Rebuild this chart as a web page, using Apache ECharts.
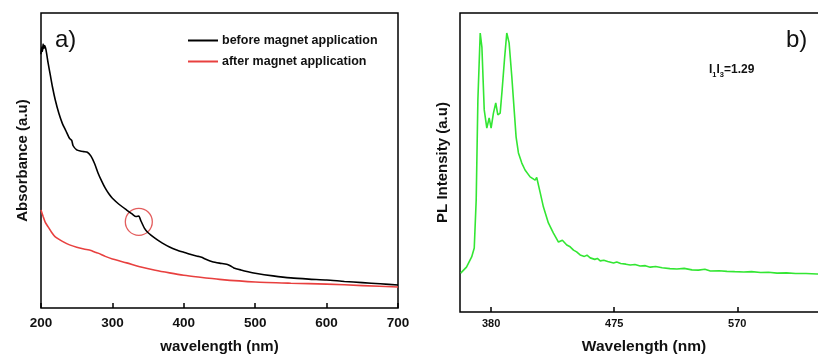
<!DOCTYPE html>
<html>
<head>
<meta charset="utf-8">
<script src="https://cdn.jsdelivr.net/npm/echarts@6/dist/echarts.min.js"></script>
<style>
  html, body { margin: 0; padding: 0; background: #fff; }
  #main { width: 818px; height: 358px; }
</style>
</head>
<body>
<div id="main"></div>
<script>
// a) absorbance (arbitrary units, 0 = axis bottom, 100 = box top)
var beforeX = [200, 201, 202, 203, 204, 205, 207, 210, 213, 216, 220, 225, 230, 235, 240, 243, 245, 250, 255, 260, 265, 270, 275, 280, 285, 290, 295, 300, 310, 320, 328, 333, 337, 340, 345, 350, 360, 370, 380, 390, 400, 410, 420, 425, 430, 440, 450, 460, 465, 470, 480, 490, 500, 525, 550, 575, 600, 625, 650, 675, 700];
var beforeY = [86, 88.5, 87, 89.5, 88, 89, 87.5, 83, 79, 75, 70.5, 66, 62.5, 60, 57.5, 56.8, 55, 53.6, 53.2, 53, 52.8, 51.5, 49, 45.7, 43, 40.6, 38.7, 37.2, 35, 33.2, 31.8, 31, 31.2, 29.5, 27, 25.5, 23.6, 22, 20.7, 19.7, 18.9, 18.1, 17.5, 17.2, 16.6, 15.7, 15.2, 14.8, 14.3, 13.6, 12.9, 12.3, 11.8, 10.9, 10.2, 9.8, 9.5, 9.0, 8.6, 8.2, 7.8];
var afterX = [200, 203, 206, 210, 215, 220, 230, 240, 250, 260, 270, 275, 280, 290, 300, 320, 340, 360, 380, 400, 420, 450, 500, 550, 600, 650, 700];
var afterY = [33.2, 31, 29, 27.5, 25.6, 24.1, 22.6, 21.4, 20.6, 20, 19.5, 19, 18.6, 17.5, 16.6, 15.3, 13.9, 12.8, 11.9, 11.1, 10.5, 9.7, 8.8, 8.4, 8.1, 7.6, 7.1];
var circlePt = [337, 29.2];

// b) PL spectrum
var plX = [356.5, 361, 365, 367, 368.5, 369.8, 371.6, 372.9, 374.7, 376.7, 378.5, 380, 381.8, 383.6, 385.2, 387, 388.5, 390.3, 392.1, 393.9, 396, 397.8, 399.3, 401.1, 403.7, 406.2, 410.1, 414, 415.2, 417.8, 420.4, 424.2, 428.1, 432, 435, 438.4, 441, 443.6, 446, 448.7, 452, 454, 456.5, 460, 462, 464.2, 467, 470, 474.5, 477, 480, 484, 487.4, 491, 495, 499, 502.8, 507, 512, 518, 523.4, 529, 535, 540, 545, 549.2, 556, 562, 568, 575, 581, 588, 594, 600.7, 608, 615, 623, 631.6, 640];
var plY = [13, 15, 18.4, 21.4, 37.5, 70.9, 93.3, 88.6, 67.6, 61.5, 64.9, 61.5, 66.5, 69.9, 65.9, 66.5, 74.2, 84.3, 93.3, 90, 78.6, 67.6, 58.5, 53.2, 49.8, 47.5, 45.2, 44.1, 45, 40.1, 35.1, 29.8, 26.4, 23.4, 24, 22.4, 21.8, 20.7, 20.1, 19.1, 18.6, 19.0, 18.1, 17.6, 17.9, 17.1, 17.3, 16.9, 16.4, 16.7, 16.2, 16.0, 15.7, 15.9, 15.4, 15.5, 15, 15.2, 14.8, 14.5, 14.4, 14.6, 14.1, 14.0, 14.3, 13.7, 13.8, 13.6, 13.5, 13.4, 13.5, 13.2, 13.3, 13, 13.1, 12.9, 12.9, 12.7, 12.6];
var plTicks = [380, 475, 570];

function zip(xs, ys) {
  return xs.map(function (x, i) { return [x, ys[i]]; });
}

var FONT = '"Liberation Sans", Arial, sans-serif';
var chart = echarts.init(document.getElementById('main'));

chart.setOption({
  animation: false,
  textStyle: { fontFamily: FONT },
  grid: [
    { left: 41, top: 13, width: 357, height: 295, show: true, borderColor: '#000', borderWidth: 1.5, backgroundColor: 'transparent', outerBoundsMode: 'none', containLabel: false },
    { left: 460, top: 13, width: 368, height: 299, show: true, borderColor: '#000', borderWidth: 1.5, backgroundColor: 'transparent', outerBoundsMode: 'none', containLabel: false }
  ],
  legend: {
    data: ['before magnet application', 'after magnet application'],
    orient: 'vertical',
    left: 183, top: 29,
    icon: 'rect', itemWidth: 30, itemHeight: 2, itemGap: 8,
    textStyle: { fontFamily: FONT, fontWeight: 'bold', fontSize: 12.5, color: '#111', padding: [0, 0, 0, -1] }
  },
  xAxis: [
    {
      gridIndex: 0, type: 'value', min: 200, max: 700, interval: 100,
      name: 'wavelength (nm)', nameLocation: 'middle', nameGap: 31,
      nameTextStyle: { fontWeight: 'bold', fontSize: 15, color: '#111' },
      axisLine: { show: false },
      axisTick: { show: true, inside: true, length: 5, lineStyle: { color: '#000', width: 1.5 } },
      axisLabel: { margin: 8, fontWeight: 'bold', fontSize: 13.5, color: '#111' },
      splitLine: { show: false }
    },
    {
      gridIndex: 1, type: 'value', min: 356, max: 640,
      name: 'Wavelength (nm)', nameLocation: 'middle', nameGap: 27,
      nameTextStyle: { fontWeight: 'bold', fontSize: 15.5, color: '#111' },
      axisLine: { show: false },
      axisTick: { show: true, inside: true, length: 5, customValues: plTicks, lineStyle: { color: '#000', width: 1.5 } },
      axisLabel: { margin: 6, fontWeight: 'bold', fontSize: 11, color: '#111', customValues: plTicks },
      splitLine: { show: false }
    }
  ],
  yAxis: [
    {
      gridIndex: 0, type: 'value', min: 0, max: 100,
      name: 'Absorbance (a.u)', nameLocation: 'middle', nameGap: 11,
      nameTextStyle: { fontWeight: 'bold', fontSize: 15, color: '#111' },
      axisLine: { show: false }, axisTick: { show: false }, axisLabel: { show: false }, splitLine: { show: false }
    },
    {
      gridIndex: 1, type: 'value', min: 0, max: 100,
      name: 'PL Intensity (a.u)', nameLocation: 'middle', nameGap: 10,
      nameTextStyle: { fontWeight: 'bold', fontSize: 15, color: '#111' },
      axisLine: { show: false }, axisTick: { show: false }, axisLabel: { show: false }, splitLine: { show: false }
    }
  ],
  series: [
    {
      name: 'before magnet application', type: 'line', xAxisIndex: 0, yAxisIndex: 0,
      data: zip(beforeX, beforeY), showSymbol: false, smooth: 0.2,
      lineStyle: { color: '#000', width: 1.6 }, itemStyle: { color: '#000' }
    },
    {
      name: 'after magnet application', type: 'line', xAxisIndex: 0, yAxisIndex: 0,
      data: zip(afterX, afterY), showSymbol: false, smooth: 0.2,
      lineStyle: { color: '#e8403f', width: 1.6 }, itemStyle: { color: '#e8403f' }
    },
    {
      name: 'circle', type: 'scatter', xAxisIndex: 0, yAxisIndex: 0,
      data: [circlePt], symbol: 'circle', symbolSize: 27, silent: true,
      itemStyle: { color: 'transparent', borderColor: '#dc3535', borderWidth: 1.3 }
    },
    {
      name: 'PL', type: 'line', xAxisIndex: 1, yAxisIndex: 1,
      data: zip(plX, plY), showSymbol: false,
      lineStyle: { color: '#33e633', width: 1.6 }
    }
  ],
  graphic: [
    { type: 'text', left: 55, top: 28, style: { text: 'a)', font: '24px ' + FONT, fill: '#111' } },
    { type: 'text', left: 786, top: 28, style: { text: 'b)', font: '24px ' + FONT, fill: '#111' } },
    {
      type: 'text', left: 709, top: 64,
      style: {
        text: '{b|I}{s|1}{b|I}{s|3}{b|=1.29}',
        rich: {
          b: { fontFamily: FONT, fontWeight: 'bold', fontSize: 12, fill: '#111', verticalAlign: 'top' },
          s: { fontFamily: FONT, fontWeight: 'bold', fontSize: 7.5, fill: '#111', padding: [7, 0, 0, 0] }
        }
      }
    }
  ]
});
</script>
</body>
</html>
